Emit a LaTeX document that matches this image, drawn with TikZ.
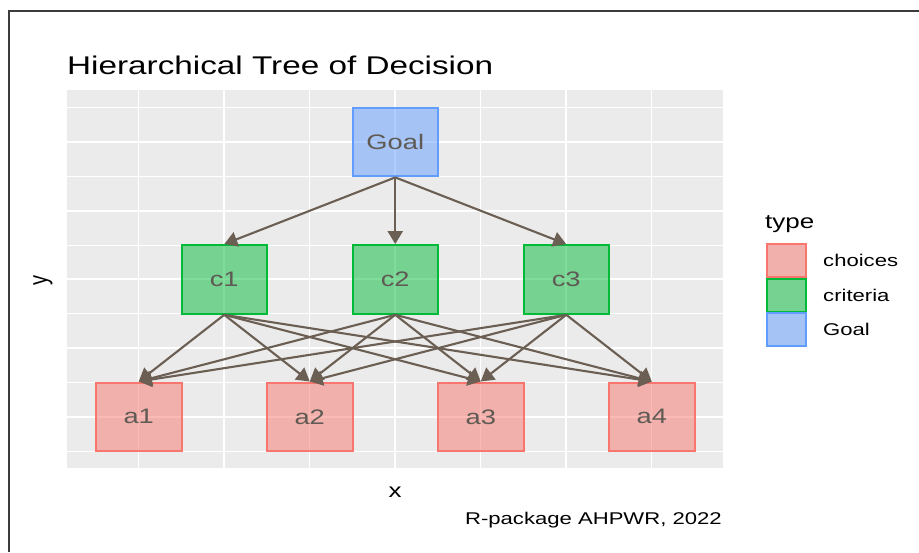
\documentclass[tikz,border=0pt]{standalone}
\usepackage{fontspec}
\setmainfont{Liberation Sans}[FakeStretch=1.3]
\newfontfamily\plainfont{Liberation Sans}
\usetikzlibrary{arrows.meta}
\definecolor{panelbg}{HTML}{EBEBEB}
\definecolor{chcol}{HTML}{F8766D}
\definecolor{crcol}{HTML}{00BA38}
\definecolor{glcol}{HTML}{619CFF}
\definecolor{arrcol}{RGB}{107,94,83}
\definecolor{lbltext}{RGB}{96,90,84}
\definecolor{framecol}{RGB}{60,60,60}
\tikzset{
  minorline/.style={white, line width=1pt},
  majorline/.style={white, line width=2pt},
  nodebox/.style={draw, line width=2pt, fill opacity=0.5, text opacity=1,
    minimum width=85.5pt, minimum height=68.7pt, inner sep=0pt,
    text=lbltext, font=\fontsize{21}{25}\selectfont},
  choicebox/.style={nodebox, draw=chcol, fill=chcol},
  critbox/.style={nodebox, draw=crcol, fill=crcol},
  goalbox/.style={nodebox, draw=glcol, fill=glcol},
  keybox/.style={draw, line width=2pt, fill opacity=0.5, minimum width=39pt, minimum height=33pt, inner sep=0pt},
  link/.style={draw=arrcol, line width=2.1pt, -{Triangle[length=13pt,width=15pt]}},
  legtext/.style={anchor=west, inner sep=0pt, font=\fontsize{17}{20}\selectfont},
}
\begin{document}
\begin{tikzpicture}[x=1pt,y=-1pt]
\useasboundingbox (0,0) rectangle (919,552);
\fill[white] (0,0) rectangle (919,552);
% frame
\draw[framecol, line width=2pt] (9,552) -- (9,11) -- (919,11);
% panel
\fill[panelbg] (67,90) rectangle (723,468);
\foreach \x in {138.75,309.75,480.75,651.75} \draw[minorline] (\x,90) -- (\x,468);
\foreach \y in {107.7,176.4,245.1,313.8,382.5,451.2} \draw[minorline] (67,\y) -- (723,\y);
\foreach \x in {224.25,395.25,566.25} \draw[majorline] (\x,90) -- (\x,468);
\foreach \y in {142.05,210.75,279.45,348.15,416.85} \draw[majorline] (67,\y) -- (723,\y);
% nodes
\node[goalbox] (goal) at (395.25,142.05) {Goal};
\node[critbox] (c1) at (224.25,279.45) {c1};
\node[critbox] (c2) at (395.25,279.45) {c2};
\node[critbox] (c3) at (566.25,279.45) {c3};
\node[choicebox] (a1) at (138.75,416.85) {a1};
\node[choicebox] (a2) at (309.75,416.85) {a2};
\node[choicebox] (a3) at (480.75,416.85) {a3};
\node[choicebox] (a4) at (651.75,416.85) {a4};
% links
\foreach \c in {c1,c2,c3} \draw[link] (goal.south) -- (\c.north);
\foreach \c in {c1,c2,c3} {
  \foreach \a in {a1,a2,a3,a4} \draw[link] (\c.south) -- (\a.north);
}
% title and labels
\node[anchor=base west, inner sep=0pt, font=\fontsize{25.6}{30}\selectfont] (title) at (67,74) {Hierarchical Tree of Decision};
\node[anchor=base, inner sep=0pt, font=\fontsize{20}{24}\selectfont] (xlab) at (395,497) {x};
\node[rotate=90, anchor=base, inner sep=0pt] (ylab) at (47,280) {\scalebox{1}[1.3]{\plainfont\fontsize{20}{24}\selectfont y}};
\node[anchor=base east, inner sep=0pt, font=\fontsize{17}{20}\selectfont] (caption) at (722,524) {R-package AHPWR, 2022};
% legend
\node[anchor=base west, inner sep=0pt, font=\fontsize{20}{24}\selectfont] (legtitle) at (765,228) {type};
\fill[panelbg] (766,243) rectangle (807,347);
\node[keybox, draw=chcol, fill=chcol] (k1) at (786.5,260.25) {};
\node[keybox, draw=crcol, fill=crcol] (k2) at (786.5,295) {};
\node[keybox, draw=glcol, fill=glcol] (k3) at (786.5,329.75) {};
\node[legtext] (l1) at (823,260.25) {choices};
\node[legtext] (l2) at (823,295) {criteria};
\node[legtext] (l3) at (823,329.75) {Goal};
\end{tikzpicture}
\end{document}
